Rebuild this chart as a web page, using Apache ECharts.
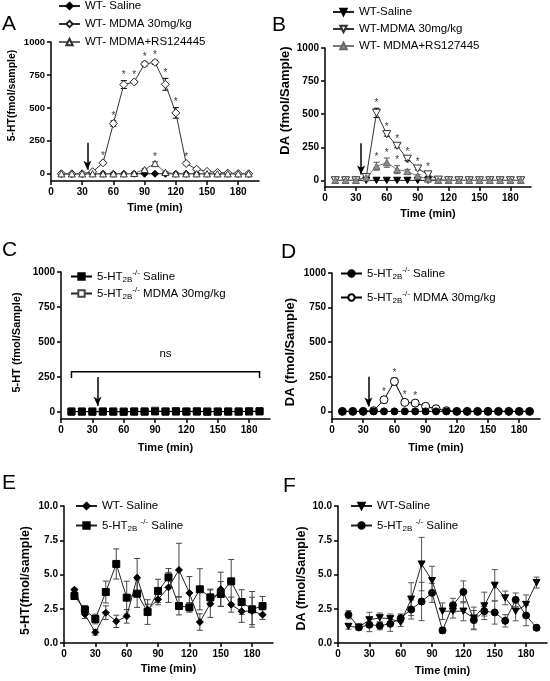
<!DOCTYPE html>
<html><head><meta charset="utf-8">
<script src="https://cdn.jsdelivr.net/npm/echarts@6/dist/echarts.min.js"></script>
<style>html,body{margin:0;padding:0;background:#fff}#c{width:550px;height:681px}</style>
</head><body><div id="c"></div>
<script>
// ---------------- data ----------------
const time = [10,20,30,40,50,60,70,80,90,100,110,120,130,140,150,160,170,180,190];
const xTicks = [0,30,60,90,120,150,180];
const yTicksBig = [0,250,500,750,1000];
const yTicksSmall = [0,2.5,5,7.5,10];

// Panel A: 5-HT, WT
const aSaline   = [0,0,0,0,0,0,0,0,0,0,0,0,0,0,0,0,0,0,0];
const aMdma     = [0,0,0,15,83,381,677,697,833,846,679,462,78,35,18,10,5,2,0];
const aMdmaSem  = [0,0,0,5,10,20,30,10,15,15,45,40,10,5,5,5,0,0,0];
const aRs       = [0,0,0,0,0,0,0,3,33,78,10,0,0,0,0,0,0,0,0];
const aRsSem    = [0,0,0,0,0,0,0,3,5,12,5,0,0,0,0,0,0,0,0];
const aMdmaStars = [50,60,70,80,90,100,110,120,130];
const aRsStars   = [100];

// Panel B: DA, WT
const bSaline   = [0,0,0,0,0,0,0,0,0,0,0,0,0,0,0,0,0,0,0];
const bMdma     = [0,0,0,25,510,349,261,163,89,45,5,0,0,0,0,0,0,0,0];
const bMdmaSem  = [0,0,0,5,35,15,15,15,10,15,0,0,0,0,0,0,0,0,0];
const bRs       = [0,0,0,20,107,134,81,68,33,10,0,0,0,0,0,0,0,0,0];
const bRsSem    = [0,0,0,5,30,35,30,15,10,5,0,0,0,0,0,0,0,0,0];
const bMdmaStars = [50,60,70,80,90,100];
const bRsStars   = [50,60,70,80];

// Panel C: 5-HT, 5-HT2B-/-
const cSaline = [3,3,2,3,3,2,3,3,4,3,3,3,3,2,3,3,3,4,5];
const cMdma   = [3,3,4,4,3,3,4,4,9,4,7,4,6,4,3,4,4,5,5];

// Panel D: DA, 5-HT2B-/-
const dSaline  = [0,0,0,0,0,0,0,0,0,0,0,0,0,0,0,0,0,0,0];
const dMdma    = [0,0,0,5,84,216,65,60,37,19,5,0,0,0,0,0,0,0,0];
const dMdmaSem = [0,0,0,3,20,25,15,15,8,5,0,0,0,0,0,0,0,0,0];
const dMdmaStars = [50,60,70,80];

// Panel E: 5-HT basal
const eWt    = [3.89,2.09,0.78,2.21,1.58,1.95,4.77,2.43,3.19,4.06,5.33,3.65,1.53,2.87,3.92,2.80,2.31,2.34,2.07];
const eWtSem = [0.1,0.3,0.2,0.5,0.45,0.5,1.4,0.4,0.4,1.1,1.95,1.2,0.6,1.0,1.25,0.55,0.8,1.0,0.35];
const eKo    = [3.43,2.43,1.75,3.72,5.77,3.31,3.6,2.26,3.8,4.79,2.7,2.6,3.92,3.33,3.58,4.5,2.99,2.46,2.7];
const eKoSem = [0.1,0.3,0.35,0.8,1.1,1.2,1.0,0.9,0.85,0.65,0.65,0.35,1.5,0.6,0.9,1.6,0.9,1.3,0.7];

// Panel F: DA basal
const fWt    = [1.21,1.16,1.69,1.84,1.77,1.5,3.2,5.76,4.55,2.32,2.32,2.32,1.82,2.71,4.21,3.29,2.32,2.81,4.41];
const fWtSem = [0.2,0.2,0.55,0.35,0.35,0.3,1.2,1.95,1.05,0.6,0.5,0.7,0.8,1.0,1.15,0.5,0.7,0.7,0.4];
const fKo    = [2.06,1.14,1.33,1.26,1.4,1.82,2.45,3.03,3.66,0.92,2.76,3.73,1.67,2.32,2.23,1.62,3.15,2.01,1.11];
const fKoSem = [0.3,0.15,0.5,0.3,0.55,0.3,0.7,1.4,0.7,0.2,0.5,0.8,0.7,0.35,0.85,0.45,0.5,0.75,0.2];

// annotations (data space)
const injectionTime = 35;
const arrowSpan = [[235,30],[280,45],[250,45],[250,35]];
const nsBracket = {from:10, to:190, top:288, foot:243, label:'ns'};

// ---------------- helpers ----------------
const F = '"Liberation Sans", Arial, Helvetica, sans-serif';
const BLACK = '#000';
const TRI_DOWN = 'path://M0,0L10,0L5,9Z';
const TRI_UP = 'path://M5,0L10,9L0,9Z';

const legendLabels = {
  aSal:'WT- Saline', aMd:'WT- MDMA 30mg/kg', aRs:'WT- MDMA+RS124445',
  bSal:'WT-Saline', bMd:'WT-MDMA 30mg/kg', bRs:'WT- MDMA+RS127445',
  cSal:'{t|5-HT}{s|2B}{p|-/-}{t| Saline}', cMd:'{t|5-HT}{s|2B}{p|-/-}{t| MDMA 30mg/kg}',
  dSal:'{t|5-HT}{s|2B}{p|-/-}{t| Saline}', dMd:'{t|5-HT}{s|2B}{p|-/-}{t| MDMA 30mg/kg}',
  eWt:'WT- Saline', eKo:'{t|5-HT}{s|2B}{t| }{p|-/-}{t| Saline}',
  fWt:'WT-Saline', fKo:'{t|5-HT}{s|2B}{t| }{p|-/-}{t| Saline}'
};

function pts(vals){ return time.map((t,i)=>[t, vals[i]]); }

function lineS(name, gi, vals, symbol, size, fill, stroke, lineColor, z){
  return {type:'line', name, xAxisIndex:gi, yAxisIndex:gi, data:pts(vals),
    symbol, symbolSize:size, showAllSymbol:true, symbolKeepAspect:true, z,
    itemStyle:{color:fill, borderColor:stroke, borderWidth:1},
    lineStyle:{color:lineColor, width:1},
    emphasis:{disabled:true}, animation:false};
}

function errS(gi, vals, sems, color, z){
  return {type:'custom', xAxisIndex:gi, yAxisIndex:gi, silent:true, z:z||1, animation:false,
    renderItem(params, api){
      const x = api.value(0), lo = api.value(1), hi = api.value(2);
      const p1 = api.coord([x, lo]), p2 = api.coord([x, hi]);
      const w = 3, st = {stroke:color, lineWidth:1};
      return {type:'group', children:[
        {type:'line', shape:{x1:p1[0],y1:p1[1],x2:p2[0],y2:p2[1]}, style:st},
        {type:'line', shape:{x1:p1[0]-w,y1:p1[1],x2:p1[0]+w,y2:p1[1]}, style:st},
        {type:'line', shape:{x1:p2[0]-w,y1:p2[1],x2:p2[0]+w,y2:p2[1]}, style:st}
      ]};
    },
    data: time.map((t,i)=>[t, vals[i]-sems[i], vals[i]+sems[i]]).filter(d=>d[2]>d[1])
  };
}

function starS(gi, stars, vals, sems){
  return {type:'scatter', xAxisIndex:gi, yAxisIndex:gi, silent:true, z:6, animation:false,
    symbol:'circle', symbolSize:0,
    label:{show:true, position:'top', distance:0, formatter:'*', fontSize:10, color:BLACK, fontFamily:F},
    data: stars.map(t=>{const i = time.indexOf(t); return [t, vals[i]+sems[i]];})};
}

function arrowML(i){
  return {silent:true, symbol:['none','arrow'], symbolSize:[6,9], animation:false,
    label:{show:false}, emphasis:{disabled:true},
    lineStyle:{color:BLACK, width:1.5, type:'solid'},
    data:[[{coord:[injectionTime, arrowSpan[i][0]]},{coord:[injectionTime, arrowSpan[i][1]]}]]};
}

const grids = [
  {left:51, top:42, width:208, height:139},
  {left:325, top:48, width:206, height:139},
  {left:61, top:272, width:209, height:147},
  {left:332, top:273, width:208, height:146},
  {left:64, top:506, width:209, height:137},
  {left:338, top:506, width:209, height:137}
];

const yInfo = [
  {min:-55, max:1000, ticks:yTicksBig, name:'5-HT(fmol/sample)', fs:10.5, gap:33, pad:[0,0,0,32], lfs:9.5},
  {min:-50, max:1000, ticks:yTicksBig, name:'DA (fmol/Sample)', fs:13, gap:33, pad:[0,0,0,34], lfs:10},
  {min:-50, max:1000, ticks:yTicksBig, name:'5-HT (fmol/Sample)', fs:11, gap:39, pad:[0,0,0,6], lfs:10},
  {min:-55, max:1000, ticks:yTicksBig, name:'DA (fmol/Sample)', fs:13, gap:35, pad:[0,12,0,0], lfs:10},
  {min:0, max:10, ticks:yTicksSmall, name:'5-HT(fmol/sample)', fs:12.5, gap:32, pad:[0,12,0,0], lfs:10, dec:true},
  {min:0, max:10, ticks:yTicksSmall, name:'DA (fmol/Sample)', fs:12.5, gap:30, pad:[0,8,0,0], lfs:10, dec:true}
];
const xGap = [21,21,23,23,20,22];

const xAxes = grids.map((g,i)=>({type:'value', gridIndex:i, min:0, max:200,
  name:'Time (min)', nameLocation:'middle', nameGap:xGap[i],
  nameTextStyle:{fontWeight:'bold', fontSize:11, color:BLACK, fontFamily:F, verticalAlign:'top'},
  axisLine:{onZero:false, lineStyle:{color:BLACK, width:1.5}},
  axisTick:{customValues:xTicks, length:4, lineStyle:{color:BLACK, width:1.5}},
  axisLabel:{customValues:xTicks, fontWeight:'bold', fontSize:10, color:BLACK, fontFamily:F, margin:6},
  splitLine:{show:false}}));

const yAxes = yInfo.map((y,i)=>({type:'value', gridIndex:i, min:y.min, max:y.max,
  name:y.name, nameLocation:'middle', nameGap:y.gap,
  nameTextStyle:{fontWeight:'bold', fontSize:y.fs, color:BLACK, fontFamily:F, padding:y.pad},
  axisLine:{onZero:false, lineStyle:{color:BLACK, width:1.5}},
  axisTick:{customValues:y.ticks, length:4, lineStyle:{color:BLACK, width:1.5}},
  axisLabel:{customValues:y.ticks, fontWeight:'bold', fontSize:y.lfs, color:BLACK, fontFamily:F, margin:6,
    formatter: v => y.dec ? v.toFixed(1) : String(v)},
  splitLine:{show:false}}));

const richT = {t:{fontSize:11.5, fontFamily:F, color:BLACK, lineHeight:15},
  s:{fontSize:8, fontFamily:F, color:BLACK, lineHeight:8, verticalAlign:'bottom'},
  p:{fontSize:8, fontFamily:F, color:BLACK, lineHeight:8, verticalAlign:'top'}};

function legendC(names, left, top, gap){
  return {data:names, left, top, orient:'vertical', itemGap:gap, itemWidth:21, itemHeight:8,
    padding:0, selectedMode:false, inactiveColor:'#000',
    formatter: n => legendLabels[n],
    textStyle:{fontSize:11.5, fontFamily:F, color:BLACK, rich:richT}};
}

const series = [];
// A
series.push(Object.assign(lineS('aSal',0,aSaline,'diamond',7,'#000','#000','#222',2), {markLine:arrowML(0)}));
series.push(errS(0,aMdma, aMdmaSem, '#000', 1));
series.push(lineS('aMd',0,aMdma,'diamond',8,'#fff','#222','#333',3));
series.push(errS(0,aRs, aRsSem, '#333', 1));
series.push(lineS('aRs',0,aRs,TRI_UP,7,'#fff','#333','#666',4));
series.push(starS(0,aMdmaStars,aMdma,aMdmaSem));
series.push(starS(0,aRsStars,aRs,aRsSem));
// B
series.push(Object.assign(lineS('bSal',1,bSaline,TRI_DOWN,7,'#000','#000','#222',2), {markLine:arrowML(1)}));
series.push(errS(1,bMdma,bMdmaSem,'#000',1));
series.push(lineS('bMd',1,bMdma,TRI_DOWN,8,'#fff','#333','#333',3));
series.push(errS(1,bRs,bRsSem,'#555',1));
series.push(lineS('bRs',1,bRs,TRI_UP,7,'#8c8c8c','#666','#777',4));
series.push(starS(1,bMdmaStars,bMdma,bMdmaSem));
series.push(starS(1,bRsStars,bRs,bRsSem));
// C
series.push(lineS('cMd',2,cMdma,'rect',7,'#fff','#444','#222',2));
series.push(Object.assign(lineS('cSal',2,cSaline,'rect',7,'#000','#000','#000',3), {markLine:arrowML(2)}));
series.push({type:'custom', xAxisIndex:2, yAxisIndex:2, silent:true, z:5, animation:false,
  renderItem(params, api){
    const a = api.coord([api.value(0), api.value(3)]), b = api.coord([api.value(0), api.value(2)]);
    const c = api.coord([api.value(1), api.value(2)]), d = api.coord([api.value(1), api.value(3)]);
    const mid = api.coord([(api.value(0)+api.value(1))/2, api.value(2)]);
    return {type:'group', children:[
      {type:'polyline', shape:{points:[a,b,c,d]}, style:{stroke:BLACK, lineWidth:1.5, fill:null}},
      {type:'text', x:mid[0], y:mid[1]-12, style:{text:nsBracket.label, fontSize:11.5, fontFamily:F, fill:BLACK, align:'center', verticalAlign:'bottom'}}
    ]};
  },
  data:[[nsBracket.from, nsBracket.to, nsBracket.top, nsBracket.foot]]});
// D
series.push(errS(3,dMdma,dMdmaSem,'#000',1));
series.push(lineS('dMd',3,dMdma,'circle',8,'#fff','#000','#000',3));
series.push(Object.assign(lineS('dSal',3,dSaline,'circle',7,'#000','#000','#000',4), {markLine:arrowML(3)}));
series.push(starS(3,dMdmaStars,dMdma,dMdmaSem));
// E
series.push(errS(4,eWt,eWtSem,'#444',1));
series.push(errS(4,eKo,eKoSem,'#444',1));
series.push(lineS('eWt',4,eWt,'diamond',7,'#000','#000','#222',3));
series.push(lineS('eKo',4,eKo,'rect',7,'#000','#000','#222',3));
// F
series.push(errS(5,fWt,fWtSem,'#555',1));
series.push(errS(5,fKo,fKoSem,'#555',1));
series.push(lineS('fWt',5,fWt,TRI_DOWN,7,'#000','#000','#222',3));
series.push(lineS('fKo',5,fKo,'circle',7,'#000','#000','#222',3));

const letters = [['A',2,26],['B',272,27],['C',2,252],['D',281,254],['E',2,485],['F',283,488]];

const option = {
  animation:false,
  backgroundColor:'#fff',
  grid: grids.map(g=>Object.assign({containLabel:false}, g)),
  xAxis: xAxes,
  yAxis: yAxes,
  legend: [
    legendC(['aSal','aMd','aRs'], 58, 0, 6),
    legendC(['bSal','bMd','bRs'], 332, 6, 5),
    legendC(['cSal','cMd'], 70, 269, 2),
    legendC(['dSal','dMd'], 340, 266, 9),
    legendC(['eWt','eKo'], 75, 500, 6),
    legendC(['fWt','fKo'], 350, 500, 6)
  ],
  graphic: letters.map(l=>({type:'text', left:l[1], top:l[2]-12, silent:true,
    style:{text:l[0], fontSize:21, fontFamily:F, fill:BLACK}})),
  series
};

const chart = echarts.init(document.getElementById('c'), null, {renderer:'canvas'});
chart.setOption(option);
</script>
</body></html>
